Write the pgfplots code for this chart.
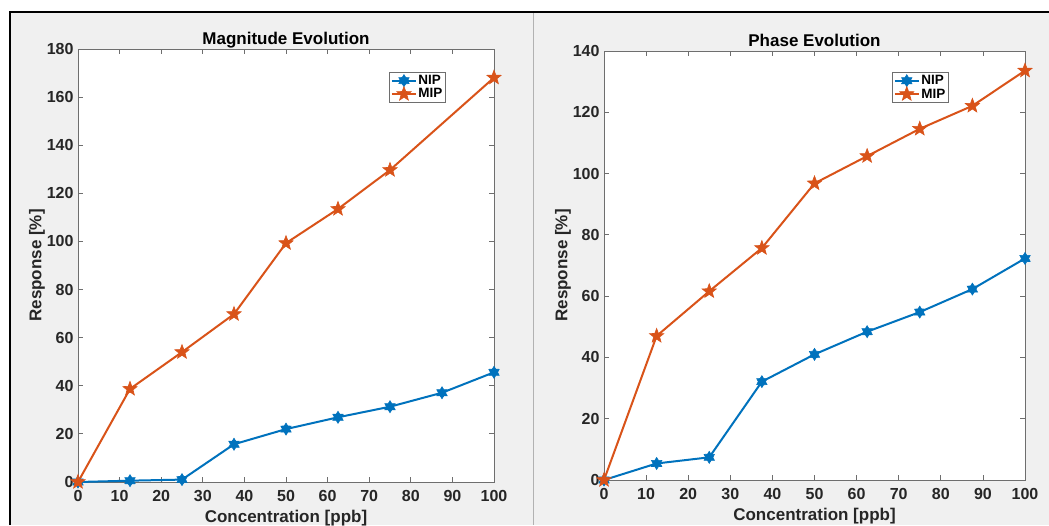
\documentclass[border=0pt]{standalone}
\usepackage{fontspec}
\setmainfont{Liberation Sans}
\usepackage{pgfplots}
\pgfplotsset{compat=1.18}
\definecolor{mblue}{rgb}{0,0.447,0.741}
\definecolor{morange}{rgb}{0.85,0.325,0.098}
\definecolor{figgray}{RGB}{240,240,240}
\definecolor{axgray}{RGB}{110,110,110}
\definecolor{txt}{RGB}{38,38,38}
\pgfdeclareplotmark{pentagram}{%
  \pgfpathmoveto{\pgfpointpolar{90}{\pgfplotmarksize}}%
  \pgfpathlineto{\pgfpointpolar{126}{0.42\pgfplotmarksize}}%
  \pgfpathlineto{\pgfpointpolar{162}{\pgfplotmarksize}}%
  \pgfpathlineto{\pgfpointpolar{198}{0.42\pgfplotmarksize}}%
  \pgfpathlineto{\pgfpointpolar{234}{\pgfplotmarksize}}%
  \pgfpathlineto{\pgfpointpolar{270}{0.42\pgfplotmarksize}}%
  \pgfpathlineto{\pgfpointpolar{306}{\pgfplotmarksize}}%
  \pgfpathlineto{\pgfpointpolar{342}{0.42\pgfplotmarksize}}%
  \pgfpathlineto{\pgfpointpolar{18}{\pgfplotmarksize}}%
  \pgfpathlineto{\pgfpointpolar{54}{0.42\pgfplotmarksize}}%
  \pgfpathclose\pgfusepathqfillstroke}
\pgfdeclareplotmark{hexagram}{%
  \pgfpathmoveto{\pgfpointpolar{90}{\pgfplotmarksize}}%
  \pgfpathlineto{\pgfpointpolar{120}{0.6\pgfplotmarksize}}%
  \pgfpathlineto{\pgfpointpolar{150}{\pgfplotmarksize}}%
  \pgfpathlineto{\pgfpointpolar{180}{0.6\pgfplotmarksize}}%
  \pgfpathlineto{\pgfpointpolar{210}{\pgfplotmarksize}}%
  \pgfpathlineto{\pgfpointpolar{240}{0.6\pgfplotmarksize}}%
  \pgfpathlineto{\pgfpointpolar{270}{\pgfplotmarksize}}%
  \pgfpathlineto{\pgfpointpolar{300}{0.6\pgfplotmarksize}}%
  \pgfpathlineto{\pgfpointpolar{330}{\pgfplotmarksize}}%
  \pgfpathlineto{\pgfpointpolar{0}{0.6\pgfplotmarksize}}%
  \pgfpathlineto{\pgfpointpolar{30}{\pgfplotmarksize}}%
  \pgfpathlineto{\pgfpointpolar{60}{0.6\pgfplotmarksize}}%
  \pgfpathclose\pgfusepathqfillstroke}
\pgfplotsset{
  matlab/.style={
    scale only axis,
    anchor=south west,
    axis background/.style={fill=white},
    xmin=0, xmax=100, ymin=0,
    xtick={0,10,...,100},
    ytick distance=20,
    tick align=inside,
    major tick length=5pt,
    axis line style={axgray, line width=0.8pt},
    every tick/.style={axgray, line width=0.8pt},
    /pgf/number format/assume math mode=true,
    ticklabel style={font=\fontsize{16}{16}\selectfont\bfseries, text=txt},
    xticklabel style={yshift=-5pt},
    yticklabel style={xshift=-1pt},
    title style={font=\fontsize{17}{17}\selectfont\bfseries, text depth=3.6pt, yshift=-9pt},
    label style={font=\fontsize{17}{17}\selectfont\bfseries, text=txt},
    xlabel style={yshift=-1pt},
    ylabel style={yshift=-5pt},
    xlabel={Concentration [ppb]},
    ylabel={Response [\%]},
    legend cell align=left,
    legend style={anchor=north west, draw=axgray, line width=0.6pt, fill=white,
      font=\fontsize{13.5}{13.5}\selectfont\bfseries, inner sep=1.5pt, row sep=-1pt,
      nodes={inner sep=1.5pt}},
    legend image code/.code={%
      \draw[mark repeat=2, mark phase=2, #1] plot coordinates {(0pt,0pt) (12pt,0pt) (24pt,0pt)};},
  },
  nip/.style={color=mblue, line width=2pt, mark=hexagram, mark size=6pt, mark options={line width=0.6pt}},
  mip/.style={color=morange, line width=2pt, mark=pentagram, mark size=7.5pt, mark options={line width=0.6pt}},
}
\begin{document}
\begin{tikzpicture}
\useasboundingbox (0pt,0pt) rectangle (1049pt,-525pt);
\fill[white] (0pt,0pt) rectangle (1049pt,-525pt);
\fill[figgray] (10pt,-12pt) rectangle (1049pt,-525pt);
\draw[line width=1.5pt, black] (10pt,-525pt) -- (10pt,-12pt) -- (1049pt,-12pt);
\draw[line width=1pt, black!30] (533.5pt,-13pt) -- (533.5pt,-525pt);
\begin{axis}[matlab, at={(78pt,-482pt)}, width=416pt, height=433pt, ymax=180,
  title={Magnitude Evolution},
  legend style={at={(0.748,0.947)}}]
\addplot[nip] coordinates {(0,0) (12.5,0.55) (25,1.0) (37.5,15.7) (50,22.0) (62.5,26.9) (75,31.3) (87.5,37.1) (100,45.6)};
\addlegendentry{NIP}
\addplot[mip] coordinates {(0,0) (12.5,38.7) (25,54.0) (37.5,69.8) (50,99.3) (62.5,113.5) (75,129.7) (100,168.1)};
\addlegendentry{MIP}
\end{axis}
\begin{axis}[matlab, at={(604pt,-480pt)}, width=421pt, height=429pt, ymax=140,
  title={Phase Evolution},
  legend style={at={(0.684,0.951)}}]
\addplot[nip] coordinates {(0,0) (12.5,5.4) (25,7.4) (37.5,32.1) (50,41.0) (62.5,48.4) (75,54.8) (87.5,62.3) (100,72.3)};
\addlegendentry{NIP}
\addplot[mip] coordinates {(0,0) (12.5,47.0) (25,61.6) (37.5,75.7) (50,96.8) (62.5,105.7) (75,114.6) (87.5,122.1) (100,133.6)};
\addlegendentry{MIP}
\end{axis}
\end{tikzpicture}
\end{document}
